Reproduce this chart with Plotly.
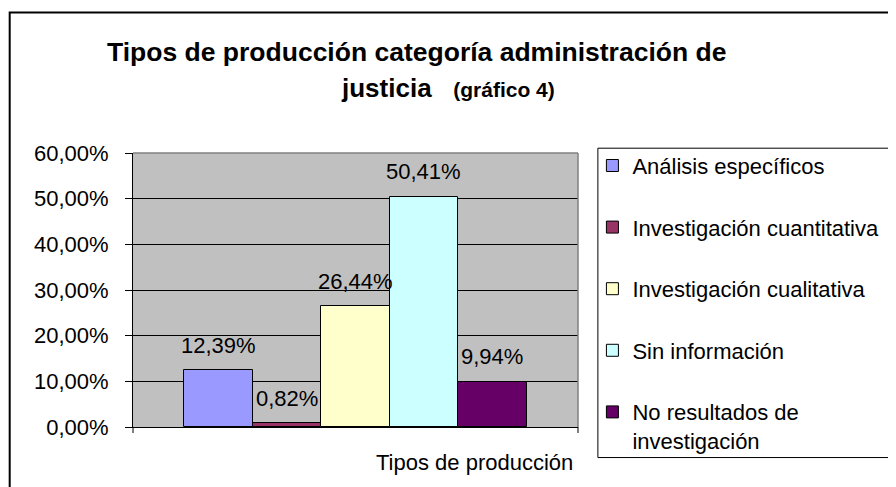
import plotly.graph_objects as go

# ---- data ----
series_names = [
    "Análisis específicos",
    "Investigación cuantitativa",
    "Investigación cualitativa",
    "Sin información",
    "No resultados de investigación",
]
legend_labels = [
    "Análisis específicos",
    "Investigación cuantitativa",
    "Investigación cualitativa",
    "Sin información",
    "No resultados de<br>investigación",
]
values_pct = [12.39, 0.82, 26.44, 50.41, 9.94]
colors = ["#9999FF", "#993366", "#FFFFCC", "#CCFFFF", "#660066"]
category_label = "Tipos de producción"
title_line1 = "Tipos de producción categoría administración de"
title_line2 = "justicia&nbsp;&nbsp;&nbsp;<span style='font-size:21px'>(gráfico 4)</span>"
y_ticks = [0, 10, 20, 30, 40, 50, 60]
y_ticktext = [f"{t:.2f}".replace(".", ",") + "%" for t in y_ticks]

# page has an 8px body margin, so figure coords = screen coords - 8
W, H = 888, 479
L, R, T, B = 125, 572.5, 145.3, 419  # plot area in figure px


def xp(px):
    return (px - L) / (R - L)


def yp(py):
    return (B - py) / (B - T)


FONT = "Liberation Sans, Arial, sans-serif"
FS = 22

fig = go.Figure()
for i, (name, lab, v, c) in enumerate(zip(series_names, legend_labels, values_pct, colors)):
    fig.add_trace(go.Bar(
        x=[name], y=[v], name=lab, legendgroup=f"g{i}",
        marker=dict(color=c, line=dict(color="black", width=1)),
        hoverinfo="skip",
    ))

annotations = []
for name, v in zip(series_names, values_pct):
    annotations.append(dict(
        x=name, y=v, xref="x", yref="y",
        text=f"{v:.2f}".replace(".", ",") + "%",
        showarrow=False, yanchor="middle", yshift=25,
        font=dict(family=FONT, size=FS, color="black"),
    ))

annotations += [
    dict(x=xp(97), y=yp(44), xref="paper", yref="paper", text="<b>" + title_line1 + "</b>",
         showarrow=False, xanchor="left", yanchor="middle",
         font=dict(family=FONT, size=26.5, color="black")),
    dict(x=xp(332), y=yp(80), xref="paper", yref="paper", text="<b>" + title_line2 + "</b>",
         showarrow=False, xanchor="left", yanchor="middle",
         font=dict(family=FONT, size=26, color="black")),
    dict(x=xp(569.5), y=yp(454), xref="paper", yref="paper", text=category_label,
         showarrow=False, xanchor="right", yanchor="middle",
         font=dict(family=FONT, size=FS, color="black")),
]

shapes = [
    # outer chart border (only left/top visible)
    dict(type="rect", xref="paper", yref="paper", x0=xp(1), y0=yp(5), x1=xp(1200), y1=yp(800),
         line=dict(color="black", width=2), layer="below"),
    # plot area border top/right
    dict(type="line", xref="paper", yref="paper", x0=0, y0=1, x1=1, y1=1,
         line=dict(color="#808080", width=1.5)),
    dict(type="line", xref="paper", yref="paper", x0=1, y0=0, x1=1, y1=1,
         line=dict(color="#808080", width=1.5)),
    # category boundary ticks
    dict(type="line", xref="paper", yref="paper", x0=0, y0=0, x1=0, y1=yp(425),
         line=dict(color="black", width=1)),
    dict(type="line", xref="paper", yref="paper", x0=1, y0=0, x1=1, y1=yp(425),
         line=dict(color="black", width=1)),
    # legend box
    dict(type="rect", xref="paper", yref="paper", x0=xp(592.5), y0=yp(140.5), x1=xp(886), y1=yp(449.5),
         line=dict(color="black", width=1)),
]

n = len(series_names)
fig.update_layout(
    width=W, height=H,
    margin=dict(l=L, r=W - R, t=T, b=H - B, pad=0),
    paper_bgcolor="white", plot_bgcolor="#C0C0C0",
    barmode="group", bargap=0, bargroupgap=0,
    showlegend=True,
    legend=dict(
        x=xp(587), y=yp(137), xanchor="left", yanchor="top",
        font=dict(family=FONT, size=FS, color="black"),
        tracegroupgap=30, valign="top", traceorder="grouped",
        bgcolor="rgba(0,0,0,0)", borderwidth=0, maxheight=420,
    ),
    xaxis=dict(
        type="category", categoryorder="array", categoryarray=series_names,
        range=[-1.25, n - 1 + 1.25], showticklabels=False, ticks="",
        showline=True, linecolor="black", linewidth=1, showgrid=False, fixedrange=True,
    ),
    yaxis=dict(
        range=[0, 60], tickvals=y_ticks, ticktext=y_ticktext,
        ticks="outside", ticklen=7, tickcolor="black", tickwidth=1,
        ticklabelstandoff=12,
        showline=True, linecolor="black", linewidth=1,
        showgrid=True, gridcolor="black", gridwidth=1, zeroline=False,
        tickfont=dict(family=FONT, size=FS, color="black"), fixedrange=True,
    ),
    annotations=annotations,
    shapes=shapes,
)

fig.write_html("out.html", config={"displayModeBar": False})
